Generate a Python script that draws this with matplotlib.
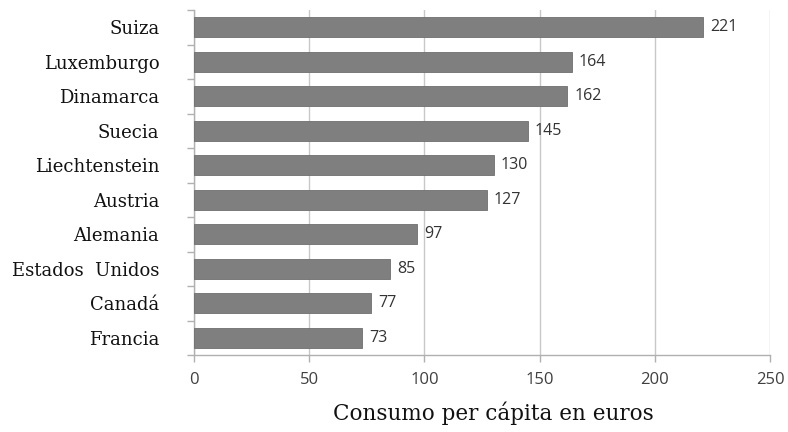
import matplotlib
matplotlib.use("Agg")
import matplotlib.pyplot as plt
import numpy as np

countries = ["Suiza", "Luxemburgo", "Dinamarca", "Suecia", "Liechtenstein",
             "Austria", "Alemania", "Estados  Unidos", "Canadá", "Francia"]
values = [221, 164, 162, 145, 130, 127, 97, 85, 77, 73]
x_ticks = [0, 50, 100, 150, 200, 250]
x_label = "Consumo per cápita en euros"

serif = ["DejaVu Serif"]
sans = ["Open Sans", "DejaVu Sans"]

fig = plt.figure(figsize=(7.88, 4.32), dpi=100)
ax = fig.add_axes([194 / 788, 1 - 355 / 432, 576 / 788, 345 / 432])

y = np.arange(len(countries))[::-1]
ax.barh(y, values, height=0.58, color="#7f7f7f", edgecolor="#6e6e6e",
        linewidth=0.6, zorder=3)

for yi, v in zip(y, values):
    ax.text(v + 3, yi, str(v), va="center", ha="left", fontsize=11.5,
            family=sans, color="#333333", zorder=4)

ax.set_xlim(0, 250)
ax.set_ylim(-0.5, len(countries) - 0.5)
ax.set_xticks(x_ticks)
ax.set_xticklabels([str(t) for t in x_ticks], family=sans, fontsize=12,
                   color="#404040")
ax.set_yticks(y)
ax.set_yticklabels(countries, family=serif, fontsize=13, color="#111111")
ax.tick_params(axis="y", length=0, pad=25)
ax.set_yticks(np.arange(-0.5, len(countries), 1), minor=True)
ax.tick_params(axis="y", which="minor", length=5, color="#b0b0b0", width=1)
ax.tick_params(axis="x", length=5, color="#b0b0b0", width=1, pad=7)

ax.grid(axis="x", color="#c8c8c8", linewidth=1, zorder=0)
for side in ["top", "right"]:
    ax.spines[side].set_visible(False)
for side in ["left", "bottom"]:
    ax.spines[side].set_color("#b0b0b0")
    ax.spines[side].set_linewidth(1)

ax.set_xlabel(x_label, family=serif, fontsize=15.5, color="#111111")
ax.xaxis.set_label_coords(0.52, -0.135)

fig.savefig("out.png", dpi=100, facecolor="white")
